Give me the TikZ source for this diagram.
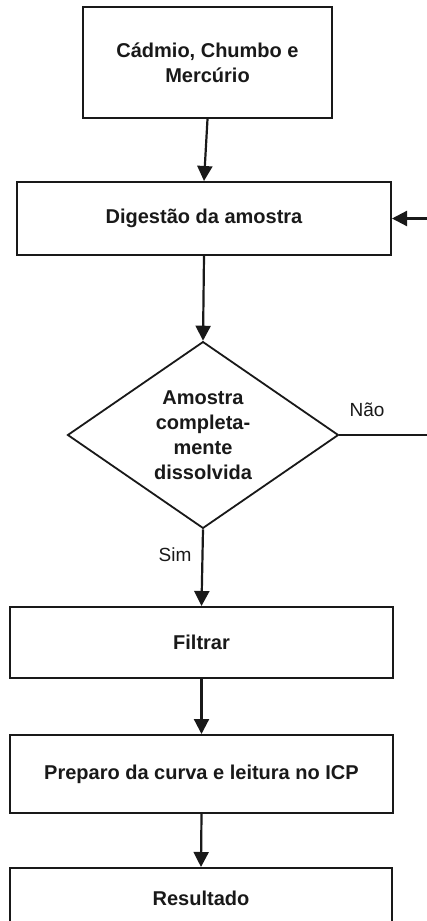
\documentclass[tikz,border=0pt]{standalone}
\usepackage{fontspec}
\setmainfont{Liberation Sans}
\usetikzlibrary{arrows.meta,shapes.geometric}
\tikzset{
  box/.style={draw=black!90, line width=2pt, rectangle, inner sep=0pt, font=\bfseries\fontsize{20}{25}\selectfont, align=center, text=black!90},
  decision/.style={draw=black!90, line width=1.8pt, diamond, inner sep=0pt, font=\bfseries\fontsize{20}{25}\selectfont, align=center, text=black!90},
  conn/.style={draw=black!90, line width=2.2pt, -{Triangle[length=15pt,width=15pt]}},
  lbl/.style={font=\fontsize{19}{22}\selectfont, text=black!90, inner sep=0pt}
}
\begin{document}
\begin{tikzpicture}[x=1pt,y=-1pt]
\useasboundingbox (0,0) rectangle (427,921);
\fill[white] (0,0) rectangle (427,921);
\node[box, minimum width=249pt, minimum height=111pt] (b1) at (207.5,62.5) {Cádmio, Chumbo e\\Mercúrio};
\node[box, minimum width=374pt, minimum height=73pt] (b2) at (204,218.5) {Digestão da amostra};
\node[decision, minimum width=271pt, minimum height=184pt] (d) at (203,435) {Amostra\\completa-\\mente\\dissolvida};
\node[box, minimum width=383pt, minimum height=71pt] (b3) at (201.5,642.5) {Filtrar};
\node[box, minimum width=383pt, minimum height=78pt] (b4) at (201.5,774) {Preparo da curva e leitura no ICP};
\node[box, minimum width=382pt, minimum height=60pt] (b5) at (201,898) {Resultado};
\coordinate (loop) at (434,435);
\draw[conn] (b1.south) -- (b2.north);
\draw[conn] (b2.south) -- (d.north);
\draw[conn] (d.south) -- (b3.north);
\draw[conn] (b3.south) -- (b4.north);
\draw[conn] (b4.south) -- (b5.north);
\draw[conn] (d.east) -- (loop) |- (b2.east);
\node[lbl] (nao) at (367,410) {Não};
\node[lbl] (sim) at (175,555) {Sim};
\end{tikzpicture}
\end{document}
